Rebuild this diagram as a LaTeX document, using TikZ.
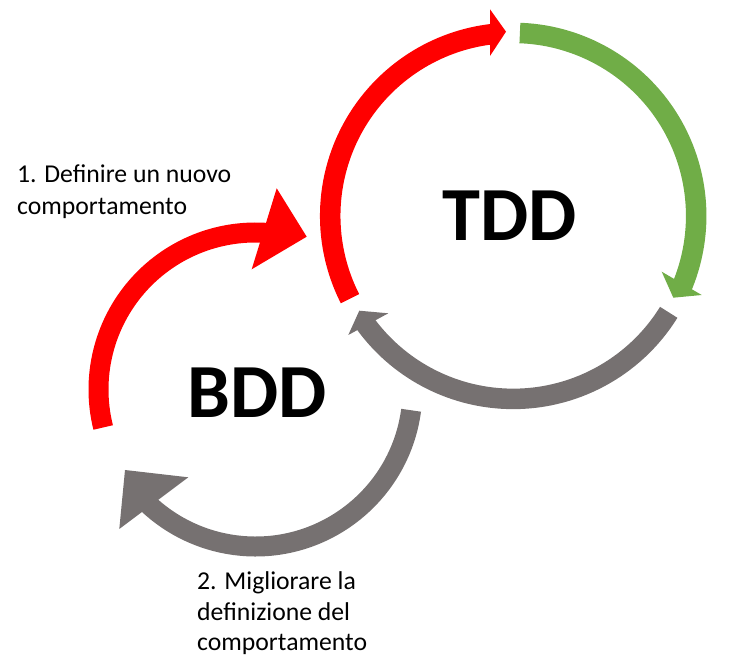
\documentclass[tikz,border=0pt]{standalone}
\usepackage{fontspec}
\setmainfont{Carlito}
\definecolor{cred}{HTML}{FF0000}
\definecolor{cgreen}{HTML}{70AD47}
\definecolor{cgray}{HTML}{767171}
\begin{document}
\begin{tikzpicture}[x=1pt,y=1pt,
  tband/.style={line width=20.5pt},
  bband/.style={line width=20pt},
  lab/.style={anchor=base west, inner sep=0pt, font=\fontsize{25.7}{30}\selectfont},
  big/.style={anchor=base, inner sep=0pt, font=\fontsize{76.5}{82}\selectfont\bfseries}]
\useasboundingbox (0,0) rectangle (748,-660);
% ---- TDD cycle
\begin{scope}[shift={(513.2,-215.9)}]
  \draw[tband, cred]   (206.9:183) arc[start angle=206.9, end angle=95.2, radius=183];
  \draw[tband, cgreen] (87.9:183) arc[start angle=87.9, end angle=-23.5, radius=183];
  \draw[tband, cgray]  (-31.8:183) arc[start angle=-31.8, end angle=-144.7, radius=183];
\end{scope}
\fill[cred]   (490,-9.3) -- (506,-31.7) -- (490,-56) -- cycle;
\fill[cgreen] (661.7,-271.7) -- (673.3,-297.7) -- (701.7,-295) -- cycle;
\fill[cgray]  (388.3,-313.3) -- (359.3,-310.7) -- (348.3,-335) -- cycle;
% ---- BDD cycle
\begin{scope}[shift={(255.5,-389.5)}]
  \draw[bband, cred]  (194:157) arc[start angle=194, end angle=84, radius=157];
  \draw[bband, cgray] (-7.6:157) arc[start angle=-7.6, end angle=-134, radius=157];
\end{scope}
\fill[cred]  (276.7,-188.3) -- (306.7,-236.7) -- (251.7,-269.3) -- cycle;
\fill[cgray] (188.3,-477.3) -- (125,-470) -- (119.3,-529) -- cycle;
% ---- texts
\node[big] (tdd) at (509.5,-240.5) {TDD};
\node[big] (bdd) at (257.5,-417.5) {BDD};
\node[lab] (l1a) at (17,-183) {1. Definire un nuovo};
\node[lab] (l1b) at (17,-214.3) {comportamento};
\node[lab] (l2a) at (197,-589.3) {2. Migliorare la};
\node[lab] (l2b) at (197,-620.7) {definizione del};
\node[lab] (l2c) at (197,-650.7) {comportamento};
\end{tikzpicture}
\end{document}
